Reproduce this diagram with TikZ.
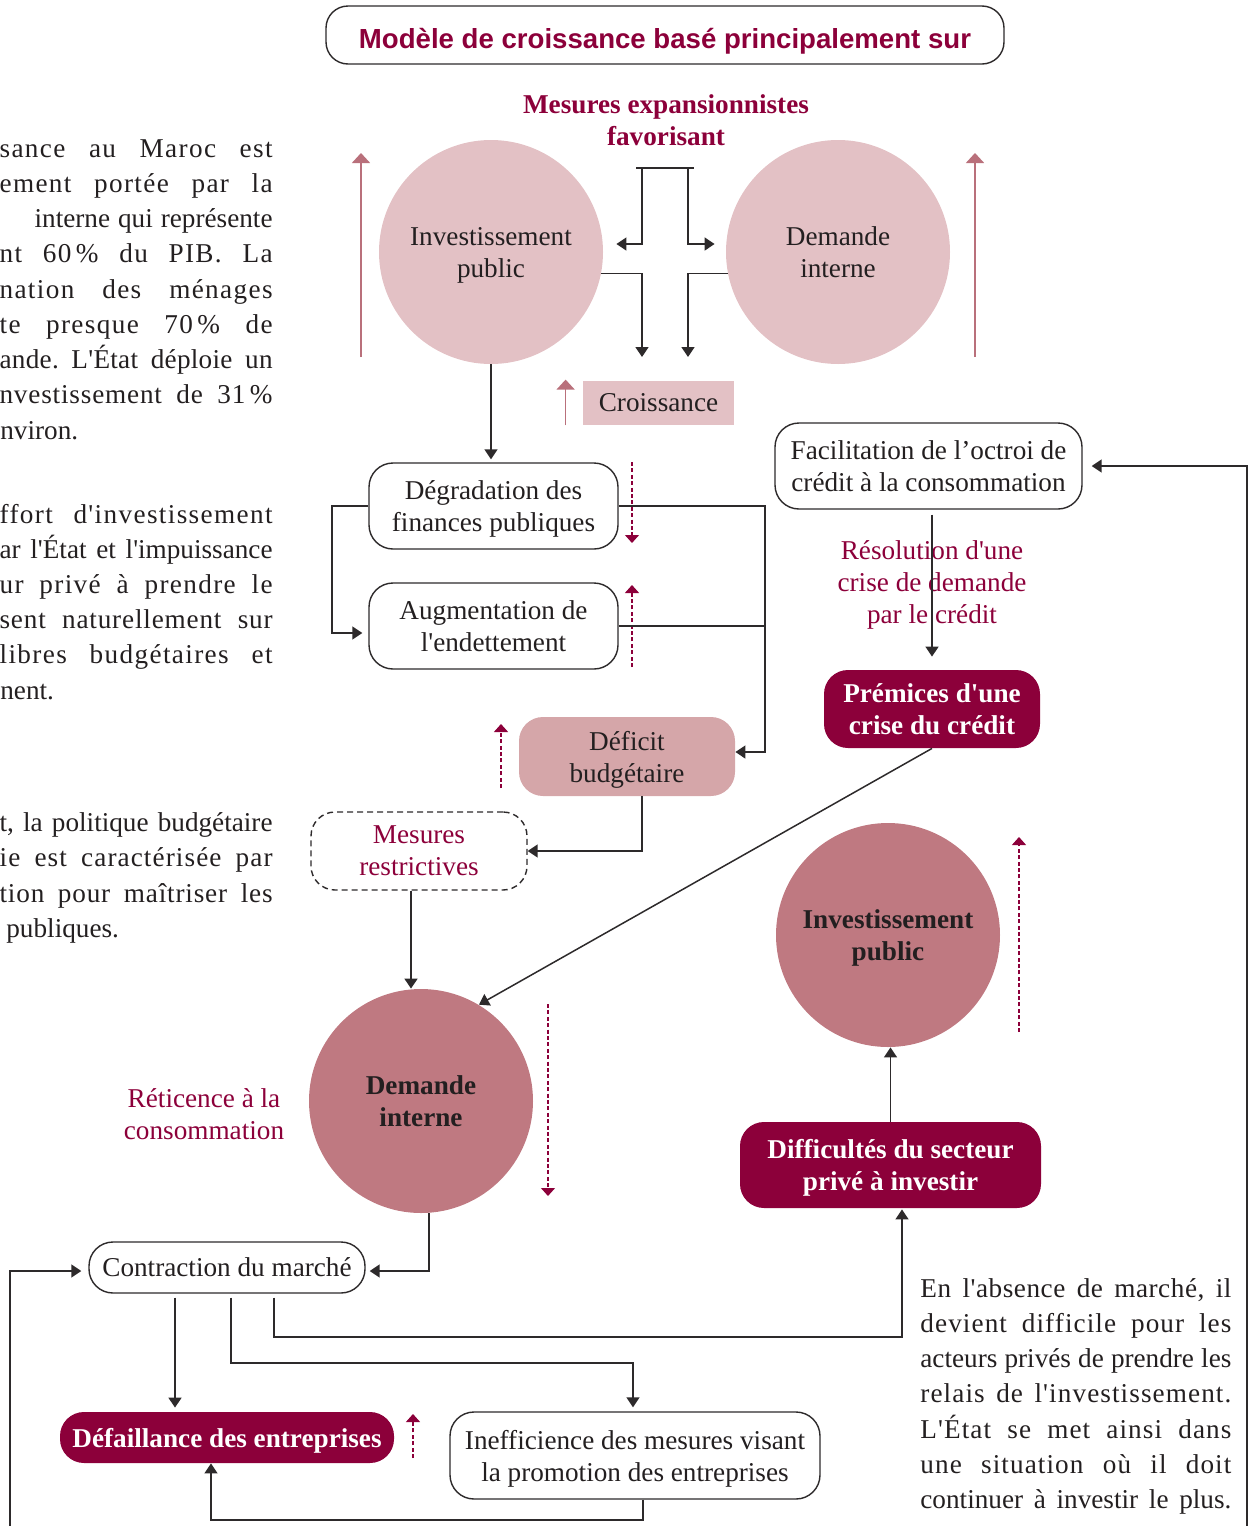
\documentclass[tikz,border=0pt]{standalone}
\usepackage{fontspec}
\setmainfont{Liberation Serif}[Ligatures=TeXOff]
\newfontfamily\titlefont{Liberation Sans}[Ligatures=TeXOff]
\usetikzlibrary{arrows.meta,calc}
\definecolor{crim}{RGB}{140,0,58}
\definecolor{lpink}{RGB}{227,193,197}
\definecolor{dpink}{RGB}{191,121,129}
\definecolor{defc}{RGB}{213,166,169}
\definecolor{parrc}{RGB}{185,112,123}
\definecolor{txt}{RGB}{35,31,32}
\definecolor{lnc}{RGB}{45,42,43}
\newcommand{\nf}{\fontsize{13.6pt}{16pt}\selectfont}
\newcommand{\jl}[3]{\hbox to #1{\addfontfeature{LetterSpace=#2}\frenchspacing\spaceskip=0.25em plus 4em minus 0.12em\xspaceskip=\spaceskip\relax #3}}
\begin{document}
\begin{tikzpicture}[x=0.5pt,y=-0.5pt,
  every node/.style={text=txt},
  arr/.style={draw=lnc, line width=0.75pt, -{Triangle[length=5pt,width=6.5pt]}},
  ln/.style={draw=lnc, line width=0.75pt},
  parr/.style={draw=parrc, line width=0.8pt, -{Triangle[length=5pt,width=9pt]}},
  darr/.style={draw=crim, line width=0.6pt, dash pattern=on 2pt off 1.2pt, -{Triangle[length=4pt,width=7pt]}},
  rbox/.style={draw=lnc, line width=0.7pt, rounded corners=12pt, align=center, inner sep=0pt, font=\nf, text depth=0pt},
  cbox/.style={fill=crim, rounded corners=12pt, align=center, inner sep=0pt, font=\nf\bfseries, text=white, text depth=0pt},
  circ/.style={circle, minimum size=112pt, inner sep=0pt, align=center, font=\nf, text depth=0pt},
  lab/.style={align=center, font=\nf, text=crim, text depth=0pt},
  para/.style={inner sep=0pt, font=\nf}
]
\useasboundingbox (0,0) rectangle (1253,1526);

% ---------- left paragraphs ----------
\node[para, anchor=base east] (pa1) at (273,157) {\jl{136.5pt}{5}{sance au Maroc est}};
\node[para, anchor=base east] (pa2) at (273,192.25) {\jl{136.5pt}{5}{ement portée par la}};
\node[para, anchor=base east] (pa3) at (273,227.5) {\jl{119pt}{0}{interne qui représente}};
\node[para, anchor=base east] (pa4) at (273,262.75) {\jl{136.5pt}{5}{nt 60\,\% du PIB. La}};
\node[para, anchor=base east] (pa5) at (273,298) {\jl{136.5pt}{5}{nation des ménages}};
\node[para, anchor=base east] (pa6) at (273,333.25) {\jl{136.5pt}{5}{te presque 70\,\% de}};
\node[para, anchor=base east] (pa7) at (273,368.5) {\jl{136.5pt}{1}{ande. L'État déploie un}};
\node[para, anchor=base east] (pa8) at (273,403.75) {\jl{136.5pt}{3}{nvestissement de 31\,\%}};
\node[para, anchor=base west] (pa9) at (0,439) {nviron.};

\node[para, anchor=base east] (pb1) at (273,523) {\jl{136.5pt}{5}{ffort d'investissement}};
\node[para, anchor=base east] (pb2) at (273,558.2) {\jl{136.5pt}{0}{ar l'État et l'impuissance}};
\node[para, anchor=base east] (pb3) at (273,593.4) {\jl{136.5pt}{5}{ur privé à prendre le}};
\node[para, anchor=base east] (pb4) at (273,628.6) {\jl{136.5pt}{3}{sent naturellement sur}};
\node[para, anchor=base east] (pb5) at (273,663.8) {\jl{136.5pt}{5}{libres budgétaires et}};
\node[para, anchor=base west] (pb6) at (0,699) {nent.};

\node[para, anchor=base east] (pc1) at (273,831.5) {\jl{136.5pt}{0}{t, la politique budgétaire}};
\node[para, anchor=base east] (pc2) at (273,866.8) {\jl{136.5pt}{4}{ie est caractérisée par}};
\node[para, anchor=base east] (pc3) at (273,902.1) {\jl{136.5pt}{3}{tion pour maîtriser les}};
\node[para, anchor=base west] (pc4) at (6,937.4) {publiques.};

% ---------- right paragraph ----------
\node[para, anchor=base west] (pr1) at (920,1297) {\jl{155.5pt}{2}{En l'absence de marché, il}};
\node[para, anchor=base west] (pr2) at (920,1332.3) {\jl{155.5pt}{4}{devient difficile pour les}};
\node[para, anchor=base west] (pr3) at (920,1367.6) {\jl{155.5pt}{0}{acteurs privés de prendre les}};
\node[para, anchor=base west] (pr4) at (920,1402.9) {\jl{155.5pt}{4}{relais de l'investissement.}};
\node[para, anchor=base west] (pr5) at (920,1438.2) {\jl{155.5pt}{4}{L'État se met ainsi dans}};
\node[para, anchor=base west] (pr6) at (920,1473.5) {\jl{155.5pt}{4}{une situation où il doit}};
\node[para, anchor=base west] (pr7) at (920,1508.8) {\jl{155.5pt}{0}{continuer à investir le plus.}};

% ---------- title ----------
\node[draw=lnc, line width=0.7pt, rounded corners=11pt, minimum width=339pt, minimum height=29pt, inner sep=0pt,
      font=\titlefont\bfseries\fontsize{13.8pt}{16pt}\selectfont, text=crim] (title) at (665,35)
      {\raisebox{-3pt}[\height][\depth]{Modèle de croissance basé principalement sur}};
\node[lab, font=\nf\bfseries] (mexp) at (666,120) {Mesures expansionnistes\\favorisant};

% ---------- circles ----------
\node[circ, fill=lpink] (c1) at (491,252) {Investissement\\public};
\node[circ, fill=lpink] (c2) at (838,252) {Demande\\interne};
\node[circ, fill=dpink, font=\nf\bfseries] (c3) at (888,935) {Investissement\\public};
\node[circ, fill=dpink, font=\nf\bfseries] (c4) at (421,1101) {Demande\\interne};

% ---------- boxes ----------
\node[fill=lpink, minimum width=75.5pt, minimum height=22pt, inner sep=0pt, font=\nf] (cro) at (658.5,403) {Croissance};
\node[rbox, minimum width=124.5pt, minimum height=43pt] (deg) at (493.5,506) {Dégradation des\\finances publiques};
\node[rbox, minimum width=124.5pt, minimum height=43pt] (aug) at (493.5,626) {Augmentation de\\l'endettement};
\node[fill=defc, rounded corners=12pt, minimum width=108pt, minimum height=39.5pt, inner sep=0pt, align=center, font=\nf, text depth=0pt] (def) at (627,756.5) {Déficit\\budgétaire};
\node[rbox, dash pattern=on 3pt off 2pt, text=crim, minimum width=108pt, minimum height=39pt] (mes) at (419,851) {Mesures\\restrictives};
\node[rbox, minimum width=153.5pt, minimum height=43pt] (fac) at (928.5,466) {Facilitation de l’octroi de\\crédit à la consommation};
\node[lab] (res) at (932,582) {Résolution d'une\\crise de demande\\par le crédit};
\node[cbox, minimum width=108pt, minimum height=39pt] (pre) at (932,709) {Prémices d'une\\crise du crédit};
\node[cbox, minimum width=150.5pt, minimum height=43pt] (dif) at (890.5,1165) {Difficultés du secteur\\privé à investir};
\node[rbox, minimum width=138pt, minimum height=25.5pt] (con) at (227,1267.5) {Contraction du marché};
\node[cbox, minimum width=167pt, minimum height=25.5pt] (dfl) at (227,1437.5) {Défaillance des entreprises};
\node[rbox, minimum width=185pt, minimum height=43.5pt] (inef) at (635,1455.5) {Inefficience des mesures visant\\la promotion des entreprises};
\node[lab] (ret) at (204,1114) {Réticence à la\\consommation};

% ---------- pink indicator arrows ----------
\coordinate (pa1b) at (361,357); \coordinate (pa1t) at (361,153);
\coordinate (pa2b) at (975,357); \coordinate (pa2t) at (975,153);
\draw[parr] (pa1b) -- (pa1t);
\draw[parr] (pa2b) -- (pa2t);
\draw[parr] ([xshift=-8.5pt]cro.south west) -- ([xshift=-8.5pt,yshift=0.5pt]cro.north west);

% ---------- dashed indicator arrows ----------
\coordinate (d1a) at (632,462); \coordinate (d1b) at (632,543);
\coordinate (d2a) at (632,667); \coordinate (d2b) at (632,585);
\coordinate (d3a) at (501,788); \coordinate (d3b) at (501,724);
\coordinate (d4a) at (548,1004); \coordinate (d4b) at (548,1196);
\coordinate (d5a) at (1019,1032); \coordinate (d5b) at (1019,837);
\coordinate (d6a) at (413,1458); \coordinate (d6b) at (413,1414);
\draw[darr] (d1a) -- (d1b);
\draw[darr] (d2a) -- (d2b);
\draw[darr] (d3a) -- (d3b);
\draw[darr] (d4a) -- (d4b);
\draw[darr] (d5a) -- (d5b);
\draw[darr] (d6a) -- (d6b);

% ---------- top bracket ----------
\coordinate (bl) at (636,168); \coordinate (br) at (694,168);
\coordinate (vl) at (642,168); \coordinate (vr) at (688,168);
\coordinate (yA) at (0,244);
\draw[ln] (bl) -- (br);
\draw[arr, shorten >=6.5pt] (vl) |- (c1.east |- yA);
\draw[arr, shorten >=5.5pt] (vr) |- (c2.west |- yA);
\coordinate (g1) at (642,357); \coordinate (g2) at (688,357);
\draw[arr] (c1.-11.3) -| (g1);
\draw[arr] (c2.191.3) -| (g2);

% ---------- connectors ----------
\draw[arr, shorten >=1.5pt] (c1.south) -- (c1.south |- deg.north);
\coordinate (lbk) at (332,505);
\coordinate (augin) at ([yshift=-3.5pt]aug.west);
\draw[arr, shorten >=3pt] (deg.west) -- (deg.west -| lbk) |- (augin);
\coordinate (rj) at (765,0);
\coordinate (defin) at ([yshift=2.25pt]def.east);
\draw[ln] (aug.east) -- (aug.east -| rj);
\draw[arr] (deg.east) -- (deg.east -| rj) |- (defin);
\coordinate (defout) at ([xshift=7.5pt]def.south);
\draw[arr] (defout) |- (mes.east);
\coordinate (mesout) at ([xshift=-4pt]mes.south);
\draw[arr] (mesout) -- (mesout |- c4.north);
\draw[arr, shorten <=2.5pt, shorten >=6.5pt] (pre.north |- fac.south) -- (pre.north);
\draw[arr] (pre.south) -- (c4.59.4);
\coordinate (rb) at (1247,1526);
\draw[arr, shorten >=4.5pt] (rb) |- (fac.east);
\draw[arr] (dif.north) -- (dif.north |- c3.south);
\coordinate (c4out) at ([xshift=4pt]c4.south);
\draw[arr, shorten >=2pt] (c4out) |- ([yshift=-1.75pt]con.east);
\coordinate (lb) at (10,1526);
\draw[arr, shorten >=3.5pt] (lb) |- ([yshift=-1.75pt]con.west);
\coordinate (o1) at ([xshift=-26pt]con.south);
\draw[arr, shorten <=2pt, shorten >=2pt] (o1) -- (o1 |- dfl.north);
\coordinate (o2) at ([xshift=2pt]con.south);
\coordinate (h2) at (0,1363);
\coordinate (i2) at ([xshift=-1pt]inef.north);
\draw[arr, shorten <=2pt, shorten >=2pt] (o2) -- (o2 |- h2) -| (i2);
\coordinate (o3) at ([xshift=23.5pt]con.south);
\coordinate (h3) at (0,1337);
\coordinate (i3) at ([xshift=5.75pt]dif.south);
\draw[arr, shorten <=2pt, shorten >=0.5pt] (o3) -- (o3 |- h3) -| (i3);
\coordinate (o4) at ([xshift=4pt]inef.south);
\coordinate (h4) at (0,1520);
\coordinate (i4) at ([xshift=-8pt]dfl.south);
\draw[arr] (o4) -- (o4 |- h4) -| (i4);
\end{tikzpicture}
\end{document}
